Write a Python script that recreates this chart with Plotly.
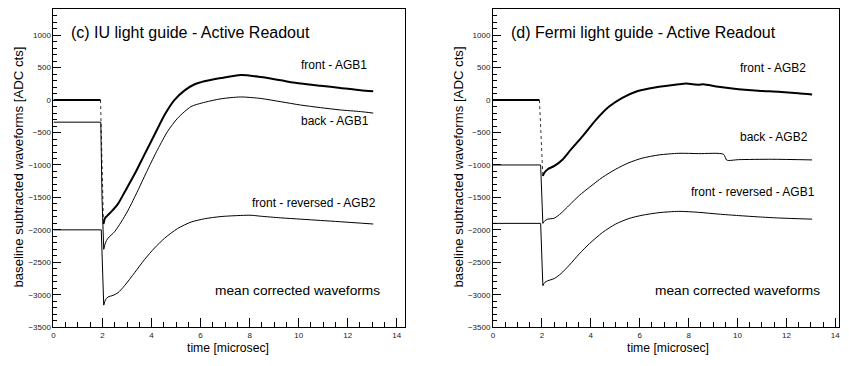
import numpy as np
import plotly.graph_objects as go

# ---------------- data ----------------
# Panel (c) IU light guide
c_front_t = [0, 1.92, 1.97, 2.04, 2.1, 2.2, 2.36, 2.63, 2.9, 3.31, 3.71, 4.12, 4.53, 4.93, 5.35, 5.74, 6.15, 6.83, 7.64, 8.46, 9.27, 10.08, 10.89, 11.7, 12.52, 13.04]
c_front_v = [0, 0, -700, -1910, -1820, -1780, -1720, -1600, -1420, -1140, -840, -535, -230, 0, 150, 240, 290, 340, 388, 355, 305, 255, 220, 188, 153, 137]

c_back_t = [0, 1.93, 1.98, 2.05, 2.12, 2.22, 2.49, 2.76, 3.04, 3.44, 3.85, 4.25, 4.66, 5.06, 5.61, 6.05, 6.83, 7.64, 8.46, 9.27, 10.08, 10.89, 11.7, 12.52, 13.04]
c_back_v = [-340, -340, -1500, -2300, -2200, -2130, -2030, -1880, -1700, -1395, -1065, -760, -480, -280, -100, -45, 20, 48, 25, -25, -76, -116, -152, -177, -200]

c_rev_t = [0, 1.95, 2.0, 2.05, 2.12, 2.22, 2.43, 2.63, 2.9, 3.31, 3.71, 4.12, 4.53, 5.06, 5.61, 6.15, 6.83, 7.64, 8.06, 8.46, 9.27, 10.08, 10.89, 11.7, 13.04]
c_rev_v = [-2000, -2000, -2700, -3160, -3080, -3035, -3010, -2970, -2860, -2660, -2460, -2280, -2130, -1980, -1880, -1830, -1795, -1778, -1775, -1790, -1815, -1835, -1855, -1875, -1910]

# Panel (d) Fermi light guide
d_front_t = [0, 1.9, 1.97, 2.04, 2.1, 2.24, 2.51, 2.85, 3.19, 3.66, 4.21, 4.75, 5.29, 5.84, 6.38, 6.79, 7.6, 7.9, 8.41, 8.6, 9.22, 10.04, 10.85, 11.67, 12.48, 13.05]
d_front_v = [0, 0, -600, -1170, -1120, -1065, -1015, -915, -760, -560, -305, -100, 35, 128, 178, 205, 245, 254, 238, 243, 205, 168, 143, 128, 107, 87]

d_back_t = [0, 1.95, 2.0, 2.04, 2.12, 2.24, 2.51, 2.78, 3.12, 3.53, 3.94, 4.48, 5.02, 5.56, 6.1, 6.79, 7.6, 8.41, 9.43, 9.56, 10.04, 11.4, 13.05]
d_back_v = [-1000, -1000, -1600, -1900, -1860, -1835, -1820, -1745, -1620, -1470, -1345, -1190, -1065, -965, -895, -845, -820, -825, -835, -925, -918, -912, -922]

d_rev_t = [0, 1.95, 2.0, 2.04, 2.12, 2.24, 2.51, 2.78, 3.12, 3.53, 3.94, 4.48, 5.02, 5.56, 6.1, 6.79, 7.6, 8.41, 9.22, 10.04, 10.85, 11.67, 13.05]
d_rev_v = [-1900, -1900, -2500, -2860, -2810, -2785, -2750, -2675, -2545, -2370, -2215, -2040, -1910, -1825, -1775, -1735, -1715, -1730, -1757, -1780, -1800, -1817, -1835]

panel_titles = ["(c) IU light guide - Active Readout", "(d) Fermi light guide - Active Readout"]
c_labels = ["front - AGB1", "back - AGB1", "front - reversed - AGB2"]
d_labels = ["front - AGB2", "back - AGB2", "front - reversed - AGB1"]
note = "mean corrected waveforms"
x_title = "time [microsec]"
y_title = "baseline subtracted waveforms [ADC cts]"

# ---------------- figure ----------------
W, H = 849, 366
FONT = "Liberation Sans, Arial, Helvetica, sans-serif"
fig = go.Figure()


def seg(t, v, xa, ya, w, dash="solid", shape="linear"):
    fig.add_trace(go.Scatter(x=t, y=v, mode="lines", xaxis=xa, yaxis=ya,
                             line=dict(color="black", width=w, dash=dash,
                                       shape=shape, smoothing=0.7 if shape == "spline" else None),
                             showlegend=False, hoverinfo="skip"))


def add(t, v, xa, ya, w, thin_drop=False):
    t = list(t)
    v = list(v)
    imin = int(np.argmin(v[:6]))          # bottom of the fast drop
    iflat = max(i for i in range(imin) if v[i] == v[0])  # end of the flat baseline
    # baseline
    seg(t[:iflat + 1], v[:iflat + 1], xa, ya, w)
    # fast drop
    if thin_drop:
        seg(t[iflat:imin + 1], v[iflat:imin + 1], xa, ya, 0.8, dash="dot")
    else:
        seg(t[iflat:imin + 1], v[iflat:imin + 1], xa, ya, w)
    # smooth recovery
    seg(t[imin:], v[imin:], xa, ya, w, shape="spline")


add(c_front_t, c_front_v, "x", "y", 2.0, thin_drop=True)
add(c_back_t, c_back_v, "x", "y", 1.0)
add(c_rev_t, c_rev_v, "x", "y", 1.0)
add(d_front_t, d_front_v, "x2", "y2", 2.0, thin_drop=True)
add(d_back_t, d_back_v, "x2", "y2", 1.0)
add(d_rev_t, d_rev_v, "x2", "y2", 1.0)


def px(x):
    return x / W


def py(y):
    return 1 - y / H


xcommon = dict(showgrid=False, zeroline=False, showline=True, mirror=True,
               linecolor="black", linewidth=1, ticks="inside", ticklen=9,
               tickwidth=1, tickcolor="black", dtick=2, tick0=0,
               minor=dict(ticks="inside", ticklen=5, dtick=0.5, tickcolor="black"),
               tickfont=dict(family=FONT, size=8, color="#222"))
ycommon = dict(showgrid=False, zeroline=False, showline=True, mirror=True,
               linecolor="black", linewidth=1, ticks="inside", ticklen=8,
               tickwidth=1, tickcolor="black", dtick=500, tick0=0,
               minor=dict(ticks="inside", ticklen=4, dtick=100, tickcolor="black"),
               range=[-3500, 1400],
               tickfont=dict(family=FONT, size=8, color="#222"))

L = (51.7, 405.0)
R = (493.3, 840.7)
top, bot = 9.4, 331.7

fig.update_layout(
    width=W, height=H, margin=dict(l=0, r=0, t=0, b=0),
    paper_bgcolor="white", plot_bgcolor="white",
    xaxis=dict(domain=[px(L[0]), px(L[1])], range=[0, 14.34], anchor="y", **xcommon),
    yaxis=dict(domain=[py(bot), py(top)], anchor="x", **ycommon),
    xaxis2=dict(domain=[px(R[0]), px(R[1])], range=[0, 14.14], anchor="y2", **xcommon),
    yaxis2=dict(domain=[py(bot), py(top)], anchor="x2", **ycommon),
)

ann = []


def txt(x, y, s, xr, yr, size, anchor="left"):
    ann.append(dict(x=x, y=y, xref=xr, yref=yr, text=s, showarrow=False,
                    xanchor=anchor, yanchor="middle",
                    font=dict(family=FONT, size=size, color="black")))


# panel (c)
txt(0.62, 1048, panel_titles[0], "x", "y", 16)
txt(10.0, 534, c_labels[0], "x", "y", 12)
txt(10.0, -329, c_labels[1], "x", "y", 12)
txt(8.0, -1586, c_labels[2], "x", "y", 12)
txt(6.5, -2937, note, "x", "y", 13.7)
# panel (d)
txt(0.64, 1043, panel_titles[1], "x2", "y2", 16)
txt(10.04, 499, d_labels[0], "x2", "y2", 12)
txt(10.04, -573, d_labels[1], "x2", "y2", 12)
txt(8.03, -1423, d_labels[2], "x2", "y2", 12)
txt(6.54, -2937, note, "x2", "y2", 13.7)

# axis titles
for cx in (227.5, 669.0):
    txt(px(cx), py(353.3), x_title, "paper", "paper", 12.2, anchor="center")
for cx in (17.0, 459.0):
    ann.append(dict(x=px(cx), y=py(169), xref="paper", yref="paper", text=y_title,
                    showarrow=False, textangle=-90, xanchor="center", yanchor="middle",
                    font=dict(family=FONT, size=13.2, color="black")))

fig.update_layout(annotations=ann)
fig.write_html("out.html")
